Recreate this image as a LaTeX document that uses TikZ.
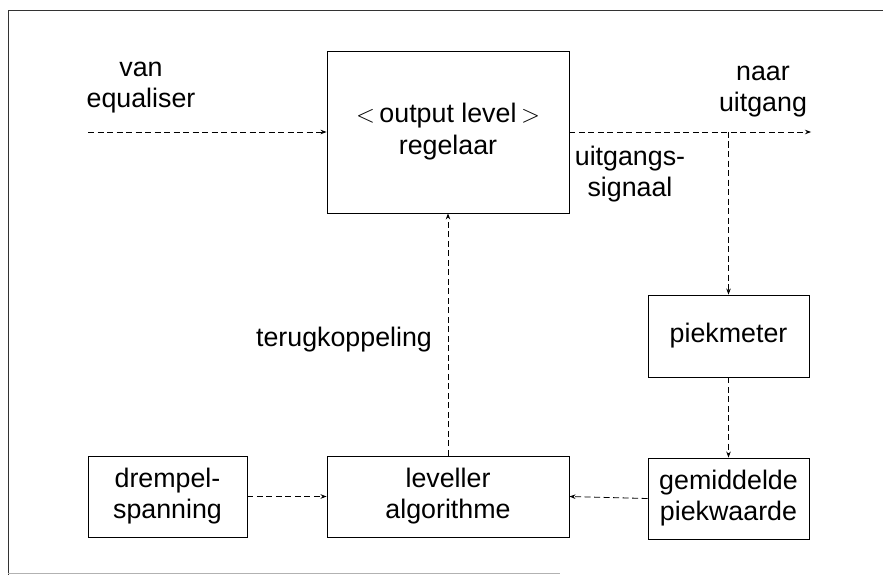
\documentclass[tikz,border=0pt]{standalone}
\usepackage{fontspec}
\setmainfont{Liberation Sans}
\usetikzlibrary{arrows.meta}
\begin{document}
\begin{tikzpicture}[x=1pt,y=-1pt,
  font=\fontsize{26.8}{31}\selectfont,
  blok/.style={draw, line width=0.9pt, inner sep=0pt, align=center},
  flow/.style={line width=0.8pt, dash pattern=on 6pt off 3.5pt,
    -{Stealth[length=6pt,width=4.5pt]}},
  lbl/.style={align=center, inner sep=0pt}]
  \useasboundingbox (0,0) rectangle (883,575);
  % page frame
  \draw[line width=0.9pt, black!80] (883,10) -- (8,10) -- (8,575);
  \draw[line width=0.7pt, black!30] (8,573) -- (560,573);

  % blocks
  \node[blok, minimum width=242pt, minimum height=162pt] (reg) at (448,132)
    {$<$\,output level\,$>$\\[1pt]regelaar};
  \node[blok, minimum width=161pt, minimum height=82pt] (piek) at (728.5,336) {piekmeter};
  \node[blok, minimum width=161pt, minimum height=81pt] (gem) at (728.5,498.5) {gemiddelde\\piekwaarde};
  \node[blok, minimum width=242pt, minimum height=81pt] (lev) at (448,496.5) {leveller\\algorithme};
  \node[blok, minimum width=159pt, minimum height=81pt] (drem) at (167.5,496.5) {drempel-\\spanning};

  % free ends of the signal path
  \coordinate (in) at (88,132);
  \coordinate (out) at (811,132);
  \coordinate (tap) at (728.5,132);

  % connectors
  \draw[flow] (in) -- (reg.west);
  \draw[flow] (reg.east) -- (out);
  \draw[flow] (tap) -- (piek.north);
  \draw[flow] (piek.south) -- (gem.north);
  \draw[flow] (gem.west) -- (lev.east);
  \draw[flow] (drem.east) -- (lev.west);
  \draw[flow] (lev.north) -- (reg.south);

  % labels
  \node[lbl] (lvan) at (141,88) {van\\equaliser};
  \node[lbl] (lnaar) at (763,92) {naar\\uitgang};
  \node[lbl] (lsig) at (630,174) {uitgangs-\\signaal};
  \node[lbl] (lterug) at (344,340) {terugkoppeling};
\end{tikzpicture}
\end{document}
